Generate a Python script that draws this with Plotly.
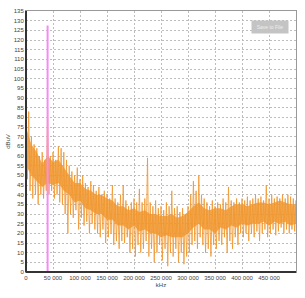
import plotly.graph_objects as go

# ---- data (values in dBuV) ----
freq_5k = list(range(0, 505000, 5000))  # Hz, spike/dip sample positions
peak_vals = [72, 83, 70, 66, 64, 60, 62, 58, 84, 60, 62, 58, 65, 64, 62, 58, 55, 52, 50, 54,
             48, 50, 46, 44, 47, 45, 42, 44, 40, 42, 40, 38, 45, 38, 36, 40, 45, 37, 34, 36,
             38, 36, 43, 36, 38, 59, 36, 34, 37, 33, 34, 32, 36, 34, 42, 33, 34, 31, 33, 30,
             34, 40, 47, 42, 50, 40, 38, 36, 34, 37, 34, 36, 35, 38, 36, 44, 37, 36, 38, 36,
             38, 37, 39, 37, 38, 40, 38, 39, 37, 45, 38, 40, 38, 39, 38, 40, 38, 40, 39, 38, 37]
dip_vals = [48, 42, 38, 40, 35, 40, 38, 42, 40, 42, 38, 40, 36, 35, 30, 20, 30, 28, 32, 22,
            28, 24, 26, 20, 25, 22, 20, 18, 22, 15, 18, 20, 14, 16, 12, 16, 15, 18, 10, 12,
            8, 14, 10, 12, 16, 8, 12, 5, 10, 14, 6, 12, 3, 10, 8, 12, 5, 10, 4, 8,
            10, 14, 16, 12, 18, 14, 10, 12, 8, 14, 12, 16, 14, 18, 10, 16, 12, 18, 14, 20,
            18, 20, 16, 20, 18, 21, 16, 20, 22, 18, 20, 22, 19, 21, 23, 20, 22, 20, 22, 21, 22]

freq_10k = list(range(0, 510000, 10000))
core_low = [55, 50, 47, 44, 46, 45, 46, 42, 40, 36, 37, 33, 32, 30, 30, 27, 27, 24, 24, 22,
            24, 21, 22, 20, 20, 18, 19, 18, 18, 18, 20, 23, 25, 22, 22, 20, 23, 22, 24, 23,
            25, 24, 25, 25, 26, 24, 26, 25, 26, 24, 25]
core_high = [75, 66, 62, 56, 60, 57, 58, 54, 50, 46, 46, 43, 42, 40, 40, 38, 37, 34, 34, 32,
             33, 31, 32, 30, 30, 29, 29, 30, 28, 29, 31, 34, 36, 33, 32, 33, 33, 32, 34, 35,
             35, 34, 35, 36, 36, 35, 36, 37, 36, 35, 35]

marker_freq = 40000
marker_level = 127.5

x_ticks = list(range(0, 500000, 50000))
y_ticks = list(range(0, 140, 5))

# ---- build traces ----
zig_x, zig_y = [], []
for f, p, d in zip(freq_5k, peak_vals, dip_vals):
    zig_x += [f, f + 2500]
    zig_y += [p, d]

fig = go.Figure()
fig.add_trace(go.Scatter(x=freq_10k, y=core_low, mode="lines",
                         line=dict(width=0, color="#f0962d"), hoverinfo="skip"))
fig.add_trace(go.Scatter(x=freq_10k, y=core_high, mode="lines", fill="tonexty",
                         fillcolor="rgba(240,150,45,0.8)",
                         line=dict(width=0, color="#f0962d"), hoverinfo="skip"))
fig.add_trace(go.Scatter(x=zig_x, y=zig_y, mode="lines",
                         line=dict(width=0.9, color="rgba(240,150,45,0.9)")))
fig.add_trace(go.Scatter(x=[marker_freq, marker_freq], y=[0, marker_level], mode="lines",
                         line=dict(width=2, color="#f58cf5")))

fig.update_layout(
    width=305, height=298,
    margin=dict(l=23, r=9, t=8, b=26),
    paper_bgcolor="white", plot_bgcolor="white",
    showlegend=False,
    separators=". ",
    font=dict(family="Liberation Sans, Arial, sans-serif", size=6, color="#444"),
)
fig.update_xaxes(
    range=[0, 500000], tickvals=x_ticks, tickformat=",d",
    showgrid=True, gridcolor="#bdbdbd", griddash="2px,2px", gridwidth=1,
    zeroline=False, showline=True, linecolor="#999", linewidth=1, mirror=True,
    ticks="", ticklen=0,
    title=dict(text="kHz", font=dict(size=6), standoff=2),
)
fig.update_yaxes(
    range=[0, 135], tickvals=y_ticks,
    showgrid=True, gridcolor="#bdbdbd", griddash="2px,2px", gridwidth=1,
    zeroline=False, showline=True, linecolor="#999", linewidth=1, mirror=True,
    ticks="", ticklen=0,
    title=dict(text="dBuV", font=dict(size=6), standoff=2),
)
# thick dark left and bottom axis lines
fig.add_shape(type="line", xref="paper", yref="paper", x0=0, x1=0, y0=0, y1=1,
              line=dict(color="#333", width=2))
fig.add_shape(type="line", xref="paper", yref="paper", x0=0, x1=1, y0=0, y1=0,
              line=dict(color="#333", width=2))
# "Save to File" button
fig.add_annotation(xref="paper", yref="paper", x=0.975, y=0.967, xanchor="right", yanchor="top",
                   text="Save to File", showarrow=False,
                   font=dict(size=5, color="#eeeeee"), bgcolor="#c4c4c4",
                   borderpad=3, width=30)

fig.write_html("out.html")
